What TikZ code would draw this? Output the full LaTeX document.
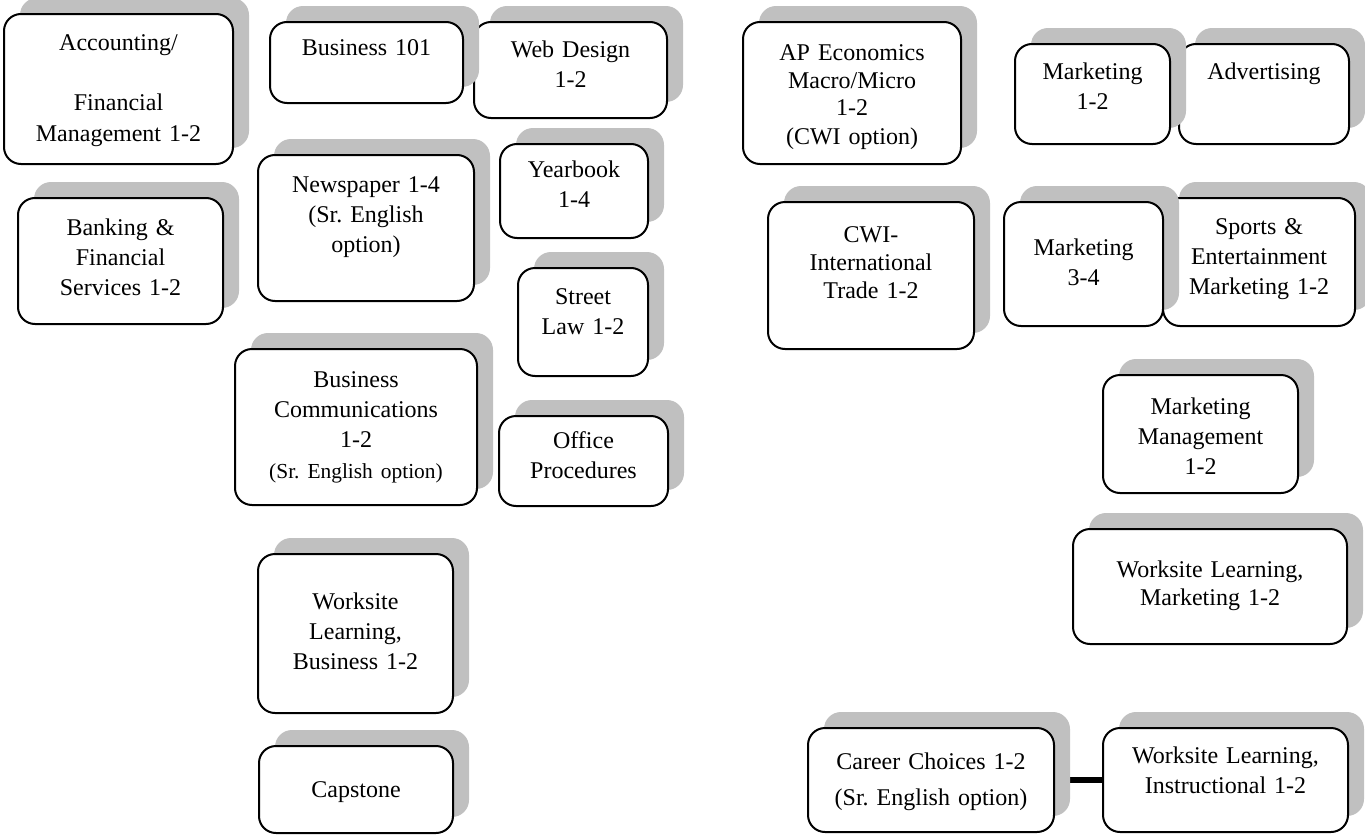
\documentclass[tikz,border=0pt]{standalone}
\usepackage{fontspec}
\setmainfont{Liberation Serif}
\usetikzlibrary{shadows,backgrounds}
\definecolor{shadowgray}{RGB}{192,192,192}
\frenchspacing
\begin{document}
\begin{tikzpicture}[x=0.5pt,y=-0.5pt,
  course/.style={draw,line width=1pt,fill=white,rounded corners=8.5pt,inner sep=0pt,
    anchor=north west,align=center,font=\fontsize{12}{15.2}\selectfont,
    general shadow={fill=shadowgray,draw=none,shadow xshift=8pt,shadow yshift=8pt}},
  tight/.style={font=\fontsize{12}{14}\selectfont}
  ]
    \useasboundingbox (0,0) rectangle (1365,835);

    \node[course,text width=114.5pt,text height=18pt,text depth=57pt] (acct) at (3,13)
        {Accounting/\\[15.2pt]Financial\\Management 1-2};
    \node[course,text width=102.5pt,text height=18.5pt,text depth=44.5pt] (bank) at (17,197)
        {Banking \&\\Financial\\Services 1-2};
    \node[course,text width=96.5pt,text height=17.5pt,text depth=30.5pt] (web) at (473,21)
        {Web Design\\1-2};
    \node[course,text width=96.5pt,text height=16.5pt,text depth=24pt] (bus101) at (269,21)
        {Business 101};
    \node[course,text width=108pt,text height=18.5pt,text depth=54.5pt] (news) at (257,154)
        {Newspaper 1-4\\(Sr.\ English\\option)};
    \node[course,text width=74pt,text height=16.5pt,text depth=30.5pt] (year) at (499,143)
        {Yearbook\\1-4};
    \node[course,text width=65pt,text height=18pt,text depth=36pt] (street) at (517,267)
        {Street\\Law 1-2};
    \node[course,text width=121pt,text height=19pt,text depth=59pt] (buscomm) at (234,348)
        {Business\\Communications\\1-2\\{\fontsize{10.7}{15.2}\selectfont (Sr.\ English option)}};
    \node[course,text width=84.5pt,text height=16pt,text depth=29pt] (office) at (498,415)
        {Office\\Procedures};
    \node[course,text width=97.5pt,text height=27.5pt,text depth=52pt] (wsbus) at (257,553)
        {Worksite\\Learning,\\Business 1-2};
    \node[course,text width=97pt,text height=25.5pt,text depth=18pt] (capstone) at (258,745)
        {Capstone};

    \node[course,tight,text width=109pt,text height=19pt,text depth=52pt] (apecon) at (742,21)
        {AP Economics\\Macro/Micro\\1-2\\(CWI option)};
    \node[course,tight,text width=103pt,text height=20pt,text depth=53.5pt] (cwi) at (767,201)
        {CWI-\\International\\Trade 1-2};
    \node[course,text width=85pt,text height=17.5pt,text depth=32.5pt] (advert) at (1178,43)
        {Advertising};
    \node[course,text width=77.5pt,text height=17.5pt,text depth=32.5pt] (mkt12) at (1014,43)
        {Marketing\\1-2};
    \node[course,text width=96pt,text height=18pt,text depth=46pt] (sports) at (1162,197)
        {Sports \&\\Entertainment\\Marketing 1-2};
    \node[course,text width=79.5pt,text height=26.5pt,text depth=35.5pt] (mkt34) at (1003,201)
        {Marketing\\3-4};
    \node[course,text width=97.5pt,text height=19.5pt,text depth=39.5pt] (mktmgmt) at (1102,374)
        {Marketing\\Management\\1-2};
    \node[course,tight,text width=137pt,text height=24pt,text depth=33.5pt] (wsmkt) at (1072,528)
        {Worksite Learning,\\Marketing 1-2};
    \node[course,text width=123pt,text height=20.5pt,text depth=31.5pt] (career) at (807,727)
        {Career Choices 1-2\\[2.8pt](Sr.\ English option)};
    \node[course,text width=122.5pt,text height=17.5pt,text depth=34.5pt] (wsinst) at (1102,727)
        {Worksite Learning,\\Instructional 1-2};

    \begin{scope}[on background layer]
        \draw[line width=2.8pt] (career.east) -- (wsinst.west);
    \end{scope}
\end{tikzpicture}
\end{document}
